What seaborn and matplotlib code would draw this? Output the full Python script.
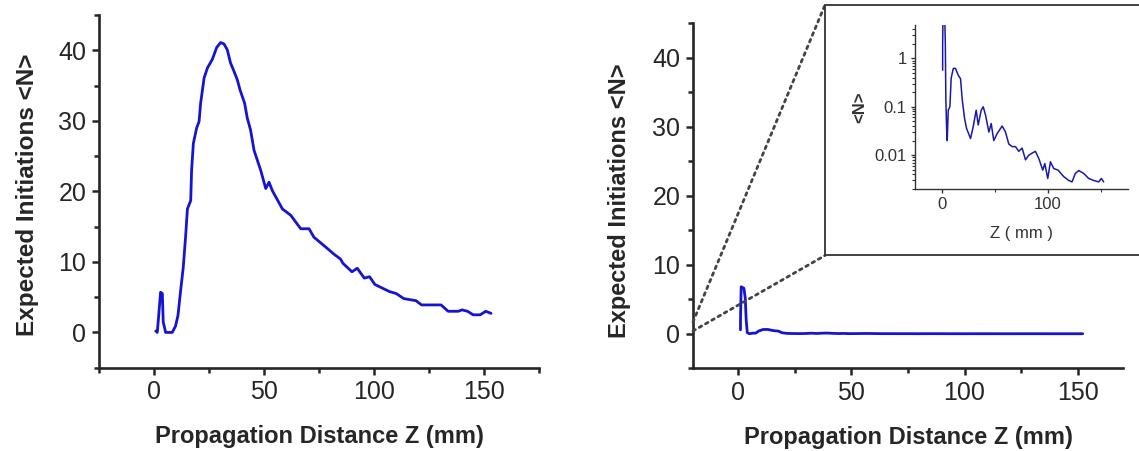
import numpy as np
import pandas as pd
import seaborn as sns
import matplotlib.pyplot as plt
from matplotlib import ticker
from matplotlib.patches import Rectangle, ConnectionPatch

# left panel: expected initiations vs propagation distance
z_left = [0.8, 1.5, 2.2, 3.0, 3.8, 4.2, 5.3, 8.3, 9.8, 10.9, 12.1, 13.3, 14.4, 15.2,
          16.7, 17.1, 17.9, 19.4, 20.5, 21.2, 22.8, 24.3, 26.5, 28.5, 30.3, 31.8,
          33.3, 34.8, 36.4, 37.9, 39.1, 41.2, 42.4, 43.9, 45.5, 47.0, 48.5, 50.8,
          52.3, 53.8, 58.4, 62.2, 66.7, 70.5, 72.7, 77.3, 81.8, 84.8, 85.9, 90.0,
          92.4, 95.6, 98.0, 100.4, 103.7, 107.0, 110.2, 113.5, 119.1, 121.6, 130.5,
          133.7, 138.4, 140.0, 142.5, 145.1, 148.3, 150.8, 153.2]
n_left = [0.2, 0.0, 2.6, 5.7, 5.5, 1.5, 0.0, 0.0, 0.9, 2.4, 5.9, 9.2, 13.7, 17.5,
          18.7, 23.0, 26.8, 29.0, 29.9, 32.5, 36.1, 37.5, 38.7, 40.4, 41.1, 40.9,
          40.1, 38.2, 37.0, 35.8, 34.4, 32.5, 30.4, 28.7, 25.8, 24.4, 23.0, 20.4,
          21.3, 20.1, 17.5, 16.6, 14.7, 14.7, 13.5, 12.3, 11.1, 10.4, 9.8, 8.6,
          9.1, 7.7, 7.9, 6.8, 6.3, 5.8, 5.5, 4.8, 4.5, 3.9, 3.9,
          3.0, 3.0, 3.2, 3.0, 2.5, 2.5, 3.0, 2.7]

# right panel (same quantity, shown linear and in a log inset)
z_right = [1.0, 1.0, 1.3, 2.5, 3.1, 3.5, 4.0, 4.7, 5.3, 6.25, 7.8, 9.0, 11.0, 13.1,
           15.6, 17.8, 19.4, 21.6, 23.4, 27.2, 29.7, 32.5, 34.4, 37.2, 39.1, 41.3,
           44.4, 46.6, 49.0, 52.2, 56.9, 60.0, 63.1, 66.3, 69.4, 72.5, 75.6, 78.8,
           81.9, 85.0, 88.1, 91.3, 95.0, 96.9, 99.7, 102.2, 105.3, 109.4, 114.7,
           119.4, 122.5, 125.6, 128.8, 133.4, 138.1, 142.8, 147.5, 150.0, 152.2]
n_right = [0.57, 2.0, 6.8, 6.6, 5.2, 2.1, 0.15, 0.036, 0.02, 0.085, 0.1, 0.39, 0.62,
           0.62, 0.45, 0.38, 0.14, 0.057, 0.036, 0.022, 0.039, 0.085, 0.042, 0.085,
           0.1, 0.067, 0.03, 0.045, 0.02, 0.028, 0.04, 0.03, 0.017, 0.015, 0.015,
           0.012, 0.014, 0.008, 0.01, 0.011, 0.012, 0.0085, 0.0049, 0.0067, 0.0033,
           0.0073, 0.0053, 0.0049, 0.0036, 0.003, 0.0028, 0.0042, 0.0048, 0.0042,
           0.0033, 0.003, 0.0028, 0.0033, 0.0028]

x_label = "Propagation Distance Z (mm)"
y_label = "Expected Initiations <N>"

sns.set_style("ticks")
plt.rcParams['font.family'] = ['Liberation Sans', 'DejaVu Sans']

left_df = pd.DataFrame({'z': z_left, 'n': n_left})
right_df = pd.DataFrame({'z': z_right, 'n': n_right})

fig = plt.figure(figsize=(11.39, 4.51), dpi=100)
ax1 = fig.add_axes([0.0869, 0.1847, 0.3863, 0.782])
ax2 = fig.add_axes([0.6084, 0.1834, 0.3775, 0.7656])

line_col = '#1414d2'
for ax, df, xlim, ysize in [(ax1, left_df, (-25, 175), 17.5), (ax2, right_df, (-20, 170), 17)]:
    sns.lineplot(data=df, x='z', y='n', ax=ax, sort=False, estimator=None,
                 color=line_col, linewidth=2.0)
    ax.set_xlim(*xlim)
    ax.set_ylim(-5, 45)
    ax.xaxis.set_major_locator(ticker.FixedLocator([0, 50, 100, 150]))
    ax.xaxis.set_minor_locator(ticker.MultipleLocator(25))
    ax.yaxis.set_minor_locator(ticker.MultipleLocator(5))
    ax.set_yticks([0, 10, 20, 30, 40])
    sns.despine(ax=ax)
    for s in ['left', 'bottom']:
        ax.spines[s].set_linewidth(1.9)
    ax.tick_params(which='major', length=5, width=1.8, labelsize=18, pad=4)
    ax.tick_params(which='minor', length=3.5, width=1.8)
    ax.set_xlabel(x_label, fontsize=17, fontweight='bold', labelpad=15)
    ax.set_ylabel(y_label, fontsize=ysize, fontweight='bold')
    ax.patch.set_alpha(0)

ax1.yaxis.set_label_coords(-0.136, 0.49)
ax2.yaxis.set_label_coords(-0.143, 0.485)

# inset frame on the right panel
box_x0, box_y0, box_y1 = 0.7243, 0.4335, 0.989
fig.add_artist(Rectangle((box_x0, box_y0), 0.3, box_y1 - box_y0, transform=fig.transFigure,
                         facecolor='white', edgecolor='#333333', linewidth=1.3, zorder=3))
for y_data, y_fig in [(1.7, box_y1), (0.4, box_y0)]:
    con = ConnectionPatch(xyA=(-20, y_data), coordsA=ax2.transData,
                          xyB=(box_x0, y_fig), coordsB=fig.transFigure,
                          color='#444444', linestyle=(0, (1, 1.6)), linewidth=2.0, zorder=2)
    fig.add_artist(con)

axi = fig.add_axes([0.8033, 0.581, 0.187, 0.3636], zorder=5)
sns.lineplot(data=right_df, x='z', y='n', ax=axi, sort=False, estimator=None,
             color='#1a1aa8', linewidth=1.1)
axi.set_yscale('log')
axi.set_xlim(-25, 175)
axi.set_ylim(0.002, 4.9)
axi.set_yticks([0.01, 0.1, 1])
axi.set_yticklabels(['0.01', '0.1', '1'])
axi.yaxis.set_minor_locator(ticker.LogLocator(base=10, subs=np.arange(2, 10)))
axi.yaxis.set_minor_formatter(ticker.NullFormatter())
axi.xaxis.set_major_locator(ticker.FixedLocator([0, 100]))
axi.xaxis.set_minor_locator(ticker.FixedLocator([50, 150]))
sns.despine(ax=axi)
for s in ['left', 'bottom']:
    axi.spines[s].set_linewidth(1.0)
    axi.spines[s].set_color('#333333')
axi.tick_params(which='major', length=3, width=1.0, labelsize=12, pad=3, colors='#333333')
axi.tick_params(which='minor', length=2, width=0.8, colors='#333333')
axi.set_xlabel("Z ( mm )", fontsize=12, color='#333333', labelpad=10)
axi.set_ylabel("<N>", fontsize=12, fontweight='bold', color='#333333', labelpad=5)
axi.patch.set_alpha(0)

fig.savefig('out.png', dpi=100)
